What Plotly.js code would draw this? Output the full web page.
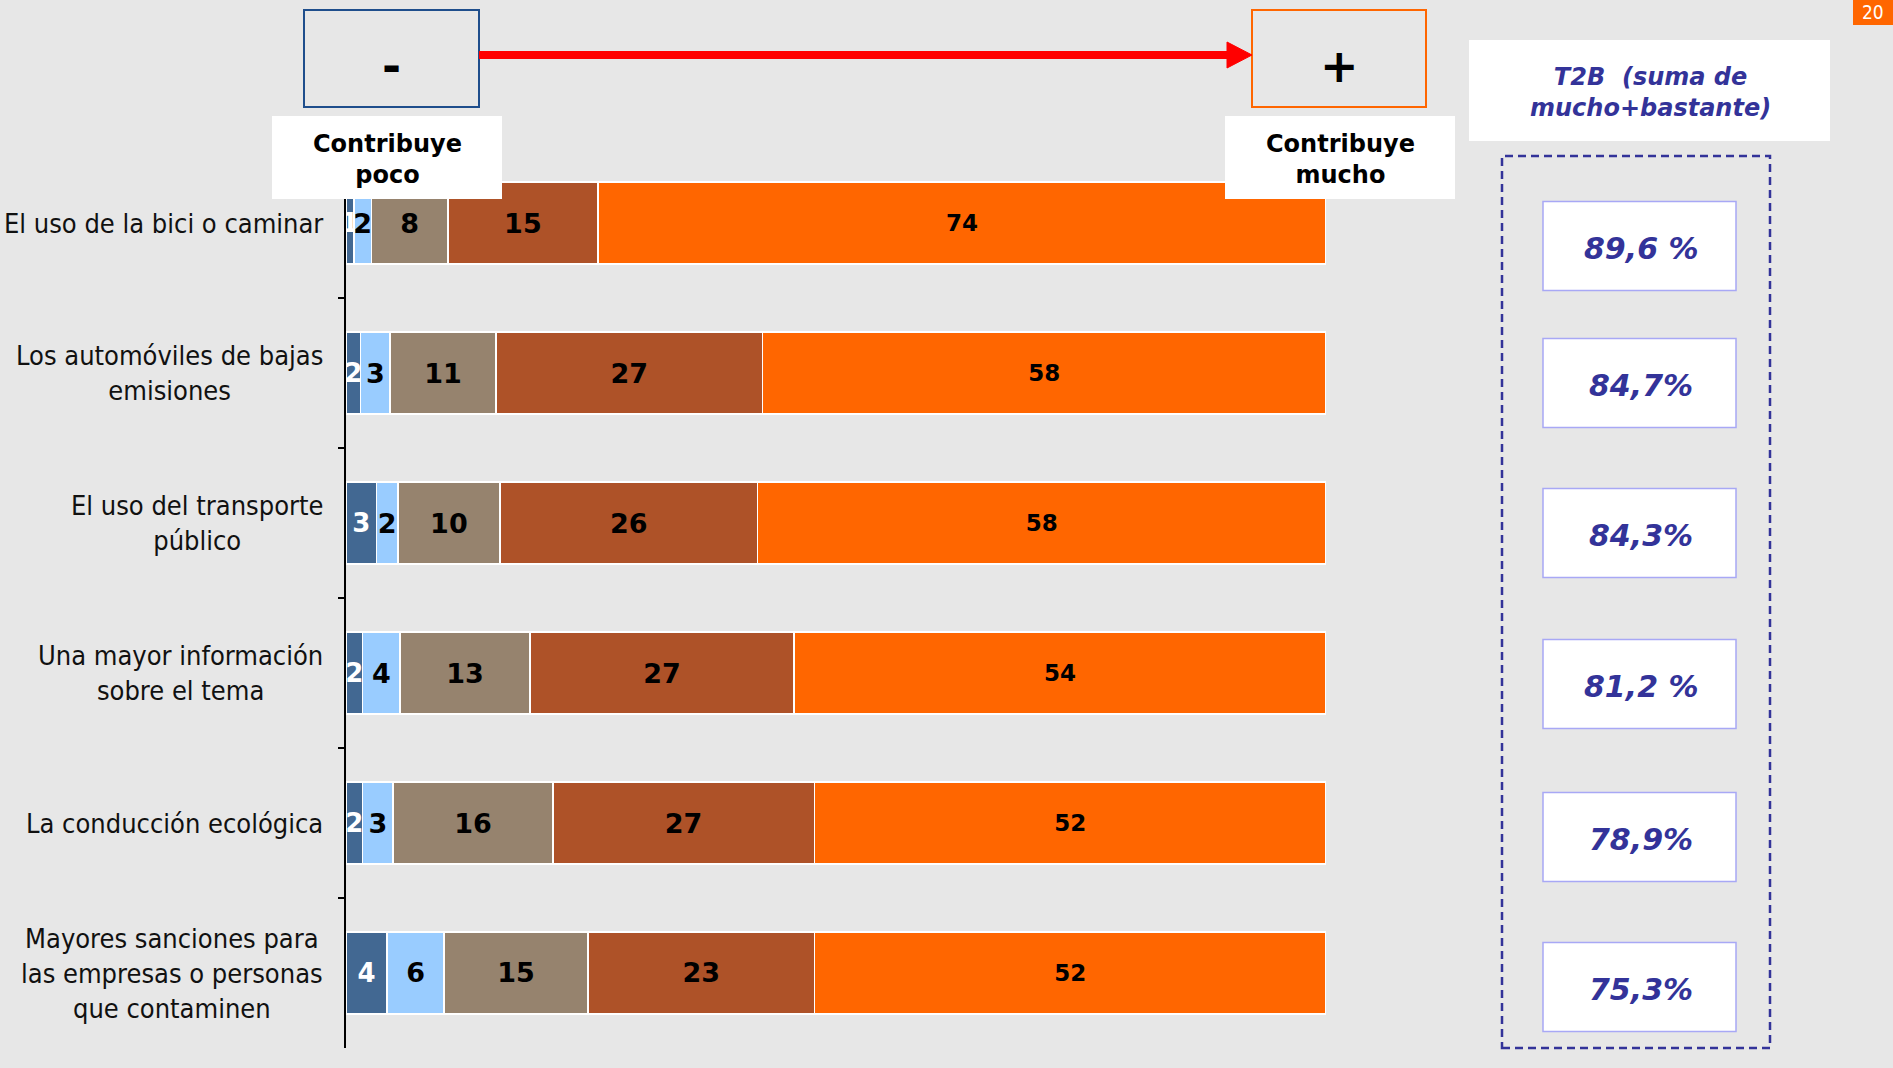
<!DOCTYPE html>
<html>
<head>
<meta charset="utf-8">
<script src="https://cdn.plot.ly/plotly-3.0.1.min.js"></script>
<style>
  html, body { margin: 0; padding: 0; background: #E7E7E7; }
  #chart { width: 1893px; height: 1068px; }
</style>
</head>
<body>
<div id="chart"></div>
<script>
// ---------- DATA ----------
const categorias = [
  "El uso de la bici o caminar",
  "Los automóviles de bajas<br>emisiones",
  "El uso del transporte<br>público",
  "Una mayor información<br>sobre el tema",
  "La conducción ecológica",
  "Mayores sanciones para<br>las empresas o personas<br>que contaminen"
];
const serieNombres = ["Nada", "Poco", "Algo", "Bastante", "Mucho"];
const nada     = [0.8, 1.5, 3.1, 1.7, 1.7, 4.2];
const poco     = [1.8, 3.0, 2.2, 3.8, 3.1, 5.8];
const algo     = [7.8, 10.8, 10.4, 13.3, 16.3, 14.7];
const bastante = [15.3, 27.2, 26.3, 26.9, 26.7, 23.1];
const mucho    = [74.3, 57.5, 58.0, 54.3, 52.2, 52.2];
const t2b = ["89,6 %", "84,7%", "84,3%", "81,2 %", "78,9%", "75,3%"];
const tituloT2B = "T2B  (suma de<br>mucho+bastante)";
const etiquetaMenos = "Contribuye<br>poco";
const etiquetaMas = "Contribuye<br>mucho";
const pagina = "20";

// ---------- LAYOUT HELPERS ----------
const W = 1893, H = 1068;
const ML = 346, MR = 567, MT = 148, MB = 20;
const PW = W - ML - MR, PH = H - MT - MB;
const px = X => (X - ML) / PW;
const py = Y => (H - MB - Y) / PH;

const colores = ["#426892", "#99CCFF", "#96836E", "#AE5228", "#FF6600"];
const textColores = ["#FFFFFF", "#000000", "#000000", "#000000", "#000000"];
const textSizes = [26, 27, 27, 27, 23];
const series = [nada, poco, algo, bastante, mucho];
const boxNudge = [23, 10, 10, 11, 14, 14];

const traces = series.map((vals, i) => ({
  type: "bar",
  orientation: "h",
  name: serieNombres[i],
  y: categorias,
  x: vals,
  text: vals.map(v => String(Math.round(v))),
  textposition: "inside",
  insidetextanchor: "middle",
  textangle: 0,
  constraintext: "none",
  cliponaxis: false,
  textfont: { family: "DejaVu Sans", size: textSizes[i], color: textColores[i], weight: "bold" },
  marker: { color: colores[i], line: { color: "#FFFFFF", width: 1.5 } },
  hoverinfo: "name+x"
}));

const shapes = [];
const annotations = [];

// "-" and "+" boxes
shapes.push({ type: "rect", xref: "paper", yref: "paper", x0: px(304), x1: px(479), y0: py(107), y1: py(10),
  line: { color: "#1F4E8C", width: 2 }, fillcolor: "rgba(0,0,0,0)", layer: "above" });
shapes.push({ type: "rect", xref: "paper", yref: "paper", x0: px(1252), x1: px(1426), y0: py(107), y1: py(10),
  line: { color: "#FF6600", width: 2 }, fillcolor: "rgba(0,0,0,0)", layer: "above" });
// red arrow
shapes.push({ type: "line", xref: "paper", yref: "paper", x0: px(479), x1: px(1232), y0: py(55), y1: py(55),
  line: { color: "#FF0000", width: 8 }, layer: "above" });
shapes.push({ type: "path", xref: "paper", yref: "paper",
  path: `M ${px(1227)},${py(42)} L ${px(1252)},${py(55)} L ${px(1227)},${py(68)} Z`,
  fillcolor: "#FF0000", line: { color: "#FF0000", width: 1 }, layer: "above" });
// white label boxes
shapes.push({ type: "rect", xref: "paper", yref: "paper", x0: px(272), x1: px(502), y0: py(199), y1: py(116),
  line: { width: 0 }, fillcolor: "#FFFFFF", layer: "above" });
shapes.push({ type: "rect", xref: "paper", yref: "paper", x0: px(1225), x1: px(1455), y0: py(199), y1: py(116),
  line: { width: 0 }, fillcolor: "#FFFFFF", layer: "above" });
shapes.push({ type: "rect", xref: "paper", yref: "paper", x0: px(1469), x1: px(1830), y0: py(141), y1: py(40),
  line: { width: 0 }, fillcolor: "#FFFFFF", layer: "above" });
// dashed frame
shapes.push({ type: "rect", xref: "paper", yref: "paper", x0: px(1502), x1: px(1770), y0: py(1048), y1: py(156),
  line: { color: "#333399", width: 2.5, dash: "8px,5px" }, fillcolor: "rgba(0,0,0,0)", layer: "above" });
// page number box
shapes.push({ type: "rect", xref: "paper", yref: "paper", x0: px(1853), x1: px(1893), y0: py(25), y1: py(0),
  line: { width: 0 }, fillcolor: "#FF6600", layer: "above" });

// T2B boxes per row + category labels
categorias.forEach((c, i) => {
  shapes.push({ type: "rect", xref: "paper", yref: "y", ysizemode: "pixel", yanchor: c,
    x0: px(1543), x1: px(1736), y0: -boxNudge[i] - 44.5, y1: -boxNudge[i] + 44.5,
    line: { color: "#A8A8F5", width: 1.5 }, fillcolor: "#FFFFFF", layer: "above" });
  annotations.push({ xref: "paper", yref: "y", x: px(1641), y: c, yshift: -boxNudge[i] - 2,
    text: t2b[i], showarrow: false, xanchor: "center", yanchor: "middle",
    font: { family: "DejaVu Sans", size: 30, color: "#333399", weight: "bold", style: "italic" } });
  annotations.push({ xref: "paper", yref: "y", x: px(325), y: c,
    text: c, showarrow: false, xanchor: "right", yanchor: "middle", align: "center",
    font: { family: "DejaVu Sans Condensed, DejaVu Sans", size: 27, color: "#111111" } });
});

// text annotations
annotations.push({ xref: "paper", yref: "paper", x: px(391), y: py(66), text: "-", showarrow: false,
  xanchor: "center", yanchor: "middle", font: { family: "DejaVu Sans", size: 46, color: "#000", weight: "bold" } });
annotations.push({ xref: "paper", yref: "paper", x: px(1339), y: py(66), text: "+", showarrow: false,
  xanchor: "center", yanchor: "middle", font: { family: "DejaVu Sans", size: 46, color: "#000", weight: "bold" } });
annotations.push({ xref: "paper", yref: "paper", x: px(387), y: py(159), text: etiquetaMenos, showarrow: false,
  xanchor: "center", yanchor: "middle", align: "center",
  font: { family: "DejaVu Sans", size: 24, color: "#000", weight: "bold" } });
annotations.push({ xref: "paper", yref: "paper", x: px(1340), y: py(159), text: etiquetaMas, showarrow: false,
  xanchor: "center", yanchor: "middle", align: "center",
  font: { family: "DejaVu Sans", size: 24, color: "#000", weight: "bold" } });
annotations.push({ xref: "paper", yref: "paper", x: px(1650), y: py(92), text: tituloT2B, showarrow: false,
  xanchor: "center", yanchor: "middle", align: "center",
  font: { family: "DejaVu Sans", size: 24, color: "#333399", weight: "bold", style: "italic" } });
annotations.push({ xref: "paper", yref: "paper", x: px(1873), y: py(12), text: pagina, showarrow: false,
  xanchor: "center", yanchor: "middle",
  font: { family: "DejaVu Sans Condensed, DejaVu Sans", size: 19, color: "#FFFFFF" } });

const layout = {
  width: W, height: H,
  margin: { l: ML, r: MR, t: MT, b: MB, pad: 0 },
  paper_bgcolor: "#E7E7E7",
  plot_bgcolor: "#E7E7E7",
  barmode: "stack",
  bargap: 0.453,
  showlegend: false,
  xaxis: { range: [0, 100], visible: false, fixedrange: true },
  yaxis: {
    type: "category", categoryorder: "array", categoryarray: categorias,
    range: [5.5, -0.5],
    showline: true, linecolor: "#000000", linewidth: 2,
    ticks: "outside", ticklen: 6, tickcolor: "#000000", tickwidth: 2,
    tickson: "boundaries", showticklabels: false, showgrid: false, zeroline: false,
    fixedrange: true
  },
  shapes: shapes,
  annotations: annotations
};

Plotly.newPlot("chart", traces, layout, { displayModeBar: false, staticPlot: true });
</script>
</body>
</html>
